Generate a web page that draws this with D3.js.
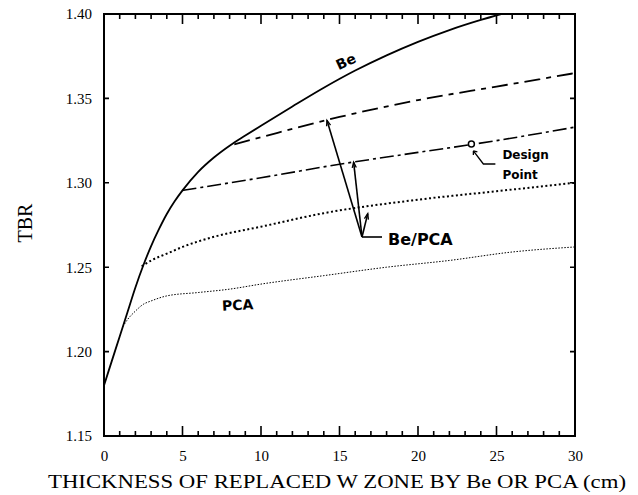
<!DOCTYPE html>
<html>
<head>
<meta charset="utf-8">
<script src="https://cdn.jsdelivr.net/npm/d3@7"></script>
<style>
  html, body { margin: 0; padding: 0; background: #fff; }
  svg { display: block; }
</style>
</head>
<body>
<svg id="chart" width="638" height="495"></svg>
<script>
// Tritium breeding ratio vs. thickness of the replaced tungsten zone
const xTicks = [0, 5, 10, 15, 20, 25, 30];
const yTicks = [1.15, 1.20, 1.25, 1.30, 1.35, 1.40];
const yTickLabels = ["1.15", "1.20", "1.25", "1.30", "1.35", "1.40"];

// Be replacement (solid)
const beX = [0, 0.5, 1, 1.5, 2, 2.5, 3, 3.5, 4, 4.5, 5, 6, 7, 8, 9, 10, 12, 14, 16, 18, 20, 22, 24, 25.3];
const beY = [1.18, 1.1945, 1.209, 1.2235, 1.238, 1.251, 1.2625, 1.2725, 1.2815, 1.289, 1.2955, 1.3065, 1.315, 1.322, 1.328, 1.3338, 1.3452, 1.3563, 1.3665, 1.3755, 1.3835, 1.3905, 1.3965, 1.40];

// Be/PCA branches
const bp1X = [8.3, 10, 15, 20, 25, 30];
const bp1Y = [1.3228, 1.327, 1.339, 1.349, 1.357, 1.365];
const bp2X = [5, 10, 15, 20, 25, 30];
const bp2Y = [1.2955, 1.303, 1.311, 1.318, 1.325, 1.333];
const bp3X = [2.4, 3, 4, 5, 7, 10, 14, 20, 25, 30];
const bp3Y = [1.2505, 1.254, 1.258, 1.262, 1.268, 1.274, 1.282, 1.290, 1.295, 1.300];

// PCA replacement
const pcaX = [1.2, 1.5, 2, 2.5, 3, 4, 6, 8, 10, 14, 18, 22, 26, 30];
const pcaY = [1.2148, 1.219, 1.224, 1.228, 1.230, 1.233, 1.235, 1.237, 1.240, 1.245, 1.250, 1.254, 1.259, 1.262];

const designX = 23.4, designY = 1.323;

const svg = d3.select("#chart");
const L = 104, R = 575, T = 14, B = 436;
const x = d3.scaleLinear().domain([0, 30]).range([L, R]);
const y = d3.scaleLinear().domain([1.15, 1.40]).range([B, T]);

const serif = "'Liberation Serif', 'DejaVu Serif', serif";
const sans = "'DejaVu Sans', 'Liberation Sans', sans-serif";

svg.append("defs").append("clipPath").attr("id", "plot")
  .append("rect").attr("x", L).attr("y", T).attr("width", R - L).attr("height", B - T);

// tick labels via d3 axes
const axLeft = svg.append("g").attr("transform", `translate(${L},0)`)
  .call(d3.axisLeft(y).tickValues(yTicks).tickSize(0).tickPadding(12)
    .tickFormat((d, i) => yTickLabels[i]));
axLeft.select(".domain").remove();
axLeft.selectAll(".tick text").attr("font-family", serif).attr("font-size", 15).attr("fill", "#000");

const axBottom = svg.append("g").attr("transform", `translate(0,${B})`)
  .call(d3.axisBottom(x).tickValues(xTicks).tickSize(0).tickPadding(14).tickFormat(d3.format("d")));
axBottom.select(".domain").remove();
axBottom.selectAll(".tick text").attr("font-family", serif).attr("font-size", 15).attr("fill", "#000");

// frame
svg.append("rect").attr("x", L).attr("y", T).attr("width", R - L).attr("height", B - T)
  .attr("fill", "none").attr("stroke", "#000").attr("stroke-width", 2);

// inward tick marks on all four sides
const minorX = d3.range(0, 31, 1);
const tickLen = v => (v % 5 === 0 ? 10 : 5);
const tickPath = d3.path();
minorX.forEach(v => {
  tickPath.moveTo(x(v), B); tickPath.lineTo(x(v), B - tickLen(v));
  tickPath.moveTo(x(v), T); tickPath.lineTo(x(v), T + tickLen(v));
});
yTicks.forEach(v => {
  tickPath.moveTo(L, y(v)); tickPath.lineTo(L + 5, y(v));
  tickPath.moveTo(R, y(v)); tickPath.lineTo(R - 5, y(v));
});
svg.append("path").attr("d", tickPath.toString())
  .attr("fill", "none").attr("stroke", "#000").attr("stroke-width", 1.6);

// curves
const line = d3.line().x(d => x(d[0])).y(d => y(d[1])).curve(d3.curveMonotoneX);
const g = svg.append("g").attr("clip-path", "url(#plot)");
function draw(xs, ys, w, dash) {
  g.append("path").datum(xs.map((v, i) => [v, ys[i]]))
    .attr("d", line).attr("fill", "none").attr("stroke", "#000")
    .attr("stroke-width", w).attr("stroke-dasharray", dash);
}
draw(beX, beY, 1.8, null);
draw(bp1X, bp1Y, 1.8, "16,6,5,6");
draw(bp2X, bp2Y, 1.6, "14,4,3,4");
draw(bp3X, bp3Y, 2, "2,2.5");
draw(pcaX, pcaY, 1, "1.5,1.5");

// design point
const dpx = x(designX), dpy = y(designY);
svg.append("circle").attr("cx", dpx).attr("cy", dpy).attr("r", 3)
  .attr("fill", "#fff").attr("stroke", "#000").attr("stroke-width", 1.5);
svg.append("path")
  .attr("d", `M${dpx + 2},${dpy + 7} L${dpx + 12},${dpy + 20} L${dpx + 24},${dpy + 20}`)
  .attr("fill", "none").attr("stroke", "#000").attr("stroke-width", 1.3);
svg.append("path")
  .attr("d", `M${dpx + 2},${dpy + 7} l0,4 M${dpx + 2},${dpy + 7} l4,1`)
  .attr("fill", "none").attr("stroke", "#000").attr("stroke-width", 1.3);
svg.append("text").attr("x", dpx + 31).attr("y", dpy + 15)
  .attr("font-family", sans).attr("font-weight", "bold").attr("font-size", 12).text("Design");
svg.append("text").attr("x", dpx + 31).attr("y", dpy + 35)
  .attr("font-family", sans).attr("font-weight", "bold").attr("font-size", 12).text("Point");

// Be/PCA pointers
const hubX = 362, hubY = 237;
function interp(xs, ys, v) {
  return d3.scaleLinear().domain(xs).range(ys)(v);
}
const tgtPts = [
  [14.2, interp(bp1X, bp1Y, 14.2)],
  [15.9, interp(bp2X, bp2Y, 15.9)],
  [16.8, interp(bp3X, bp3Y, 16.8) - 0.004]
];
tgtPts.forEach(p => {
  const tx = x(p[0]), ty = y(p[1]);
  svg.append("line").attr("x1", hubX).attr("y1", hubY).attr("x2", tx).attr("y2", ty)
    .attr("stroke", "#000").attr("stroke-width", 1.6);
  const ang = Math.atan2(ty - hubY, tx - hubX);
  const a1 = ang + Math.PI - 0.35, a2 = ang + Math.PI + 0.35;
  svg.append("path")
    .attr("d", `M${tx + 6 * Math.cos(a1)},${ty + 6 * Math.sin(a1)} L${tx},${ty} L${tx + 6 * Math.cos(a2)},${ty + 6 * Math.sin(a2)}`)
    .attr("fill", "none").attr("stroke", "#000").attr("stroke-width", 1.3);
});
svg.append("line").attr("x1", hubX).attr("y1", hubY).attr("x2", hubX + 20).attr("y2", hubY)
  .attr("stroke", "#000").attr("stroke-width", 1.6);
svg.append("text").attr("x", hubX + 26).attr("y", hubY + 8)
  .attr("font-family", sans).attr("font-weight", "bold").attr("font-size", 16).text("Be/PCA");

// curve labels
svg.append("text").attr("transform", `translate(348,66) rotate(-25)`)
  .attr("text-anchor", "middle")
  .attr("font-family", sans).attr("font-weight", "bold").attr("font-size", 14).text("Be");
svg.append("text").attr("transform", `translate(238,310) rotate(-3)`)
  .attr("text-anchor", "middle")
  .attr("font-family", sans).attr("font-weight", "bold").attr("font-size", 14).text("PCA");

// axis titles
svg.append("text").attr("transform", `translate(32,223) rotate(-90)`)
  .attr("text-anchor", "middle").attr("font-family", serif).attr("font-size", 20).text("TBR");
svg.append("text").attr("x", 337).attr("y", 488).attr("text-anchor", "middle")
  .attr("font-family", serif).attr("font-size", 18)
  .attr("textLength", 578).attr("lengthAdjust", "spacingAndGlyphs")
  .text("THICKNESS OF REPLACED W ZONE BY Be OR PCA (cm)");
</script>
</body>
</html>
